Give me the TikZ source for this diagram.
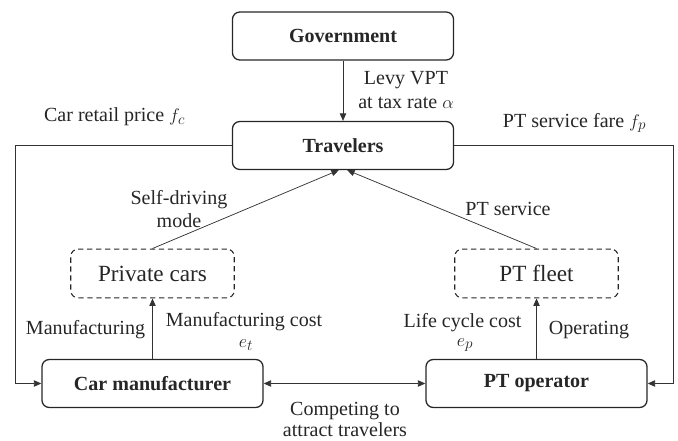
\documentclass[tikz,border=0pt]{standalone}
\usepackage{fontspec}
\setmainfont{Liberation Serif}
\usetikzlibrary{arrows.meta}

\begin{document}
\begin{tikzpicture}[every node/.style={font=\fontsize{19}{22}\selectfont,text=black!85},
  agent/.style={draw=black!85,rounded corners=7pt,line width=1.2pt,minimum width=7.37cm,minimum height=1.6cm,font=\fontsize{19}{22}\selectfont\bfseries},
  asset/.style={draw=black!85,dashed,dash pattern=on 5pt off 3.5pt,rounded corners=7pt,line width=1pt,minimum width=5.45cm,minimum height=1.63cm,font=\fontsize{22}{24}\selectfont},
  flow/.style={-{Triangle[length=7pt,width=6pt]},draw=black!80,line width=.7pt}]
\useasboundingbox (0,0) rectangle (22.6,14.7);
% actors
\node[agent] (gov)  at (11.4333,13.5000) {Government};
\node[agent] (trav) at (11.4333,9.8500) {Travelers};
\node[agent] (cmf)  at (5.0833,1.9167) {Car manufacturer};
\node[agent] (pto)  at (17.8833,1.9167) {PT operator};
% vehicles
\node[asset] (pcar)  at (5.0833,5.5833) {Private cars};
\node[asset] (fleet) at (17.8833,5.5833) {PT fleet};
\coordinate (lc) at (0.5167,9.8500);
\coordinate (rc) at (22.4333,9.8500);
% flows
\draw[flow] (gov.south) -- (trav.north);
\draw[flow] (pcar.north) -- ([xshift=-4pt]trav.south);
\draw[flow] (fleet.north) -- ([xshift=4pt]trav.south);
\draw[flow] (cmf.north) -- (pcar.south);
\draw[flow] (pto.north) -- (fleet.south);
\draw[flow] (trav.west) -- (lc) |- (cmf.west);
\draw[flow] (trav.east) -- (rc) |- (pto.east);
\draw[flow,{Triangle[length=7pt,width=6pt]}-{Triangle[length=7pt,width=6pt]}] (cmf.east) -- (pto.west);
% labels
\node (tax)   at (13.5333,11.7000) [align=center] {Levy VPT\\at tax rate $\alpha$};
\node (price) at (3.8167,10.8000) {Car retail price $f_c$};
\node (fare)  at (19.1500,10.6000) {PT service fare $f_p$};
\node (self)  at (5.9667,7.7333) [align=center] {Self-driving\\mode};
\node (serv)  at (16.9333,7.7333) {PT service};
\node (manu)  at (2.8500,3.7000) {Manufacturing};
\node (mcost) at (8.1333,3.9667) {Manufacturing cost};
\node (et)    at (8.2000,3.2000) {$e_t$};
\node (lcc)   at (15.4167,3.9333) {Life cycle cost};
\node (ep)    at (15.5000,3.2000) {$e_p$};
\node (oper)  at (19.6333,3.7000) {Operating};
\node (comp)  at (11.5000,0.7200) [align=center,font=\fontsize{19}{20.5}\selectfont] {Competing to\\attract travelers};
\end{tikzpicture}
\end{document}
